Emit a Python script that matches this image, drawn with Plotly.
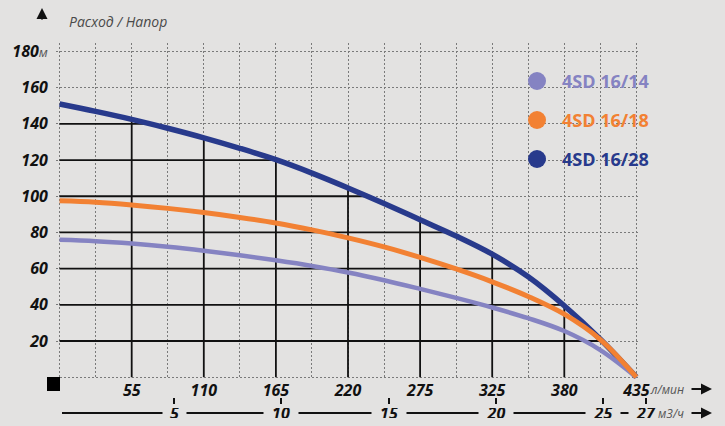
import numpy as np
import plotly.graph_objects as go

# ---------------- data ----------------
flow_lpm = [0, 27.5, 55, 82.5, 110, 137.5, 165, 192.5, 220, 247.5, 275, 300, 325, 352.5, 380, 407.5, 435]
tick_lpm = [55, 110, 165, 220, 275, 325, 380, 435]
tick_m3h = [5, 10, 15, 20, 25, 27]
head_ticks = [0, 20, 40, 60, 80, 100, 120, 140, 160, 180]

head_16_14 = [75.9, 75.2, 73.9, 72.1, 69.9, 67.4, 64.6, 61.5, 57.9, 53.6, 48.8, 43.8, 38.5, 32.6, 25.5, 15.0, 0]
head_16_18 = [97.5, 96.7, 95.2, 93.3, 91.0, 88.3, 85.2, 81.4, 77.0, 72.0, 66.2, 59.8, 52.7, 44.6, 34.8, 20.8, 0]
head_16_28 = [151, 146.9, 142.5, 137.6, 132.3, 126.5, 120.2, 112.8, 104.6, 96.0, 87.0, 78.0, 68.0, 55.5, 39.5, 21.0, 0]

series_names = ["4SD 16/14", "4SD 16/18", "4SD 16/28"]
series_colors = ["#8583c2", "#f28133", "#283a8c"]

# ---------------- styles ----------------
BG = "#e3e2e1"
FONT = "Open Sans"
W, H = 725, 426
ML, MR, MT, MB = 56, 25, 43, 22
PW, PH = W - ML - MR, H - MT - MB
PLOT_RIGHT, PLOT_BOTTOM = 640, 379


def pxx(px):
    return (px - ML) / PW


def pxy(py):
    return (H - MB - py) / PH


# x positions follow the chart's evenly spaced tick scale
scale_idx = np.arange(len(tick_lpm) + 1)
xpos = np.interp(flow_lpm, [0] + tick_lpm, scale_idx)

fig = go.Figure()

# solid grid under the top curve
top = np.array(head_16_28, dtype=float)
solid_x, solid_y = [], []
for i in range(1, len(tick_lpm)):
    solid_x += [i, i, None]
    solid_y += [0, float(np.interp(i, xpos, top)), None]
for h in head_ticks[1:]:
    if h < top[0]:
        xc = float(np.interp(h, top[::-1], xpos[::-1]))
        solid_x += [0, xc, None]
        solid_y += [h, h, None]
fig.add_trace(go.Scatter(x=solid_x, y=solid_y, mode="lines",
                         line=dict(color="#111111", width=1.8),
                         hoverinfo="skip", showlegend=False))

order = [2, 0, 1]
heads = [head_16_14, head_16_18, head_16_28]
widths = [4.5, 5, 5.5]
for k in order:
    fig.add_trace(go.Scatter(x=xpos, y=heads[k], mode="lines", name=series_names[k],
                             line=dict(color=series_colors[k], width=widths[k], shape="spline", smoothing=1.0),
                             hoverinfo="skip", showlegend=False))

# carrier for the m3/h scale strip
fig.add_trace(go.Scatter(x=[], y=[], xaxis="x2", yaxis="y2", showlegend=False, hoverinfo="skip"))

# ---------------- axes ----------------
half_vals = list(np.arange(0, len(tick_lpm) + 0.01, 0.5))
half_text = []
for v in half_vals:
    if v >= 1 and abs(v - round(v)) < 1e-9:
        half_text.append(str(tick_lpm[int(round(v)) - 1]))
    else:
        half_text.append("")

tickfont = dict(family=FONT, size=16, color="#111111", weight="bold", style="italic")
grid_common = dict(gridcolor="#7a7a7a", gridwidth=1, griddash="2px,2px", zeroline=False, showline=False,
                   automargin=False)

y_bottom = pxy(PLOT_BOTTOM)
fig.update_layout(
    width=W, height=H,
    margin=dict(l=ML, r=MR, t=MT, b=MB, pad=0, autoexpand=False),
    paper_bgcolor=BG, plot_bgcolor=BG,
    showlegend=False,
    xaxis=dict(domain=[0, pxx(PLOT_RIGHT)], range=[-0.05, 8.05], tickmode="array", tickvals=half_vals,
               ticktext=half_text, ticks="", tickfont=tickfont, showgrid=True, anchor="y", **grid_common),
    yaxis=dict(domain=[y_bottom, 1], range=[-1, 184.7], tickmode="array", tickvals=head_ticks,
               ticktext=[""] + [str(v) for v in head_ticks[1:-1]] +
                        [str(head_ticks[-1]) + "<span style='font-weight:normal;font-size:13px;color:#555555'>м</span>"],
               ticks="outside", ticklen=4, tickcolor=BG, tickfont=tickfont, showgrid=True, anchor="x",
               **grid_common),
    xaxis2=dict(domain=[0, 1], range=[(ML - 67.2) / 21.42, (W - MR - 67.2) / 21.42], anchor="y2",
                tickmode="array", tickvals=tick_m3h, ticks="inside", ticklen=6, tickwidth=1.5,
                tickcolor="#111111", showticklabels=False, showgrid=False, zeroline=False, showline=False,
                automargin=False),
    yaxis2=dict(domain=[0, y_bottom * 0.9], range=[0, 1], visible=False, showgrid=False, zeroline=False,
                anchor="x2"),
    font=dict(family=FONT),
)

shapes = []
annotations = []

# black square at origin
shapes.append(dict(type="rect", xref="paper", yref="paper", x0=pxx(47), x1=pxx(60), y0=pxy(377), y1=pxy(391),
                   fillcolor="#000000", line=dict(width=0)))

# title and vertical arrow
annotations.append(dict(xref="paper", yref="paper", x=pxx(67), y=pxy(22), xanchor="left", yanchor="middle",
                        text="Расход / Напор", showarrow=False,
                        font=dict(family=FONT, size=14, color="#4a4a4a", style="italic")))
annotations.append(dict(xref="paper", yref="paper", x=pxx(42), y=pxy(8), ax=0, ay=13, text="",
                        showarrow=True, arrowhead=2, arrowwidth=2, arrowsize=1.1, arrowcolor="#111111"))

# first axis suffix + arrow
annotations.append(dict(xref="x", yref="paper", x=len(tick_lpm), y=pxy(389), xanchor="left", yanchor="middle",
                        xshift=12, text="л/мин", showarrow=False,
                        font=dict(family=FONT, size=12, color="#555555", style="italic")))
annotations.append(dict(xref="paper", yref="paper", x=pxx(712), y=pxy(389), ax=-22, ay=0, text="",
                        showarrow=True, arrowhead=2, arrowwidth=2, arrowsize=1.1, arrowcolor="#111111"))

# second (m3/h) axis line with labels sitting on it
shapes.append(dict(type="line", xref="paper", yref="paper", x0=pxx(62), x1=pxx(636), y0=pxy(413), y1=pxy(413),
                   line=dict(color="#111111", width=2)))
for m in tick_m3h:
    annotations.append(dict(xref="x2", yref="paper", x=m, y=pxy(413), xanchor="center", yanchor="middle",
                            text=str(m), showarrow=False, bgcolor=BG, borderpad=0,
                            width=12 + 11 * len(str(m)), height=10,
                            font=dict(family=FONT, size=16, color="#111111", weight="bold", style="italic")))
annotations.append(dict(xref="x2", yref="paper", x=tick_m3h[-1], y=pxy(413), xanchor="left", yanchor="middle",
                        xshift=10, text="м3/ч", showarrow=False,
                        font=dict(family=FONT, size=12, color="#555555", style="italic")))
annotations.append(dict(xref="paper", yref="paper", x=pxx(712), y=pxy(413), ax=-22, ay=0, text="",
                        showarrow=True, arrowhead=2, arrowwidth=2, arrowsize=1.1, arrowcolor="#111111"))

# legend
for k, py in zip(range(3), [81, 120, 159]):
    shapes.append(dict(type="circle", xref="paper", yref="paper", xsizemode="pixel", ysizemode="pixel",
                       xanchor=pxx(537), yanchor=pxy(py), x0=-9, x1=9, y0=-9, y1=9,
                       fillcolor=series_colors[k], line=dict(width=0)))
    annotations.append(dict(xref="paper", yref="paper", x=pxx(560), y=pxy(py), xanchor="left", yanchor="middle",
                            text=series_names[k], showarrow=False,
                            font=dict(family=FONT, size=18, color=series_colors[k], weight="bold")))

fig.update_layout(shapes=shapes, annotations=annotations)

page_fix = ("document.body.style.margin='0';document.body.style.padding='0';"
            "document.body.style.background='%s';document.body.style.overflow='hidden';" % BG)
fig.write_html("out.html", post_script=page_fix, config={"displayModeBar": False})
